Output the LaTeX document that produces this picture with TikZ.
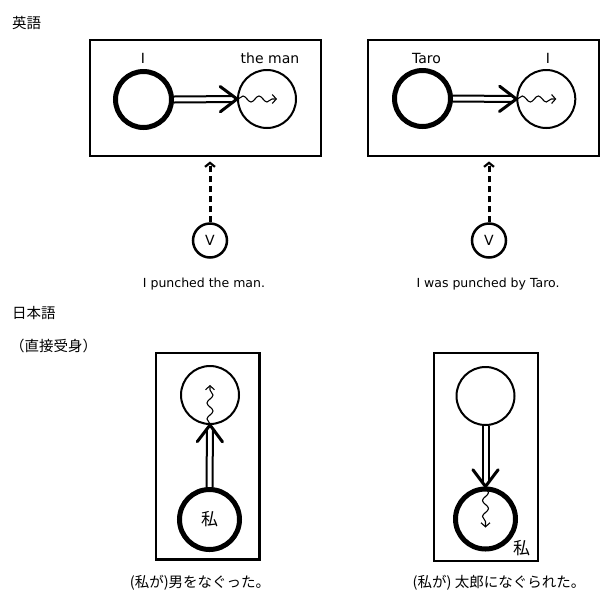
\documentclass[tikz,border=0pt]{standalone}
\usepackage{fontspec}
\setmainfont{DejaVu Sans}
\newfontfamily\jpfont{Noto Sans CJK JP}
\usetikzlibrary{calc,decorations.pathmorphing,arrows.meta}
\newcommand\dblarr[2]{%
  \coordinate (tmpE) at ($(#2)!4pt!(#1)$);
  \draw[rail] ($(#1)!3pt!90:(tmpE)$) -- ($(tmpE)!3pt!-90:(#1)$);
  \draw[rail] ($(#1)!3pt!-90:(tmpE)$) -- ($(tmpE)!3pt!90:(#1)$);
  \draw[arrhead] ($(#2)!21pt!37:(#1)$) -- (#2) -- ($(#2)!21pt!-37:(#1)$);
}
\begin{document}
\begin{tikzpicture}[x=1pt,y=-1pt,
  frame/.style={draw, line width=2.3pt, inner sep=0pt},
  agent/.style={circle, draw, line width=5pt, inner sep=0pt, minimum size=#1},
  agent/.default=56pt,
  patient/.style={circle, draw, line width=2pt, inner sep=0pt, minimum size=58pt},
  vnode/.style={circle, draw, line width=2.5pt, inner sep=0pt, minimum size=34pt, font=\fontsize{14}{14}\selectfont},
  lbl/.style={font=\fontsize{14}{14}\selectfont, inner sep=0pt, anchor=base},
  captxt/.style={font=\fontsize{12.5}{13}\selectfont, inner sep=0pt, anchor=base},
  jlbl/.style={font=\jpfont\fontsize{14.5}{15}\selectfont, inner sep=0pt, anchor=west},
  jcap/.style={font=\jpfont\fontsize{14.5}{15}\selectfont, inner sep=0pt},
  watashi/.style={font=\jpfont\fontsize{17}{17}\selectfont, inner sep=0pt},
  rail/.style={line width=2pt},
  arrhead/.style={line width=3pt, line join=round, line cap=round},
  wave/.style={line width=1.1pt, decorate,
    decoration={snake, amplitude=3pt, segment length=16pt, pre length=1pt, post length=5pt},
    -{Straight Barb[length=4pt,width=9pt,line width=1.1pt]}},
  infl/.style={line width=3pt, dash pattern=on 6pt off 4pt,
    -{Straight Barb[length=4pt,width=10pt,line width=2.2pt]}}
]
\useasboundingbox (0,0) rectangle (600,598);

% ---------- English ----------
\node[jlbl] (en) at (12,23) {英語};

% left box
\node[frame, minimum width=231pt, minimum height=116pt] (B1) at (205.3,98.3) {};
\node[agent] (A1) at (143.5,99.5) {};
\node[patient] (P1) at (267,99) {};
\node[lbl] (lA1) at (143,63) {I};
\node[lbl] (lP1) at (270,63) {the man};
\dblarr{A1.east}{P1.west}
\coordinate (w1) at ($(P1.west)+(40,0)$);
\draw[wave] (P1.west) -- (w1);
\node[vnode] (V1) at (210,240.5) {V};
\coordinate (t1) at ($(B1.south -| V1.north)+(0,4)$);
\draw[infl] (V1.north) -- (t1);
\node[captxt] (c1) at (204,287) {I punched the man.};

% right box
\node[frame, minimum width=231pt, minimum height=116pt] (B2) at (483.5,98.3) {};
\node[agent] (A2) at (422.5,98.5) {};
\node[patient] (P2) at (546.3,99) {};
\node[lbl] (lA2) at (426.5,63) {Taro};
\node[lbl] (lP2) at (548,63) {I};
\dblarr{A2.east}{P2.west}
\coordinate (w2) at ($(P2.west)+(40,0)$);
\draw[wave] (P2.west) -- (w2);
\node[vnode] (V2) at (489,240.5) {V};
\coordinate (t2) at ($(B2.south -| V2.north)+(0,4)$);
\draw[infl] (V2.north) -- (t2);
\node[captxt] (c2) at (488,287) {I was punched by Taro.};

% ---------- Japanese ----------
\node[jlbl] (ja) at (12,313) {日本語};
\node[jlbl] (jd) at (10,345.5) {（直接受身）};

% left box
\node[frame, minimum width=103.3pt, minimum height=206.7pt] (B3) at (207.8,456.2) {};
\node[patient] (P3) at (210,395) {};
\node[agent=60pt] (A3) at (209.5,519.5) {};
\node[watashi] (wA3) at (A3) {私};
\dblarr{A3.north}{P3.south}
\coordinate (w3) at ($(P3.south)+(0,-40)$);
\draw[wave] (P3.south) -- (w3);
\node[jcap] (c3) at (200,583) {(私が)男をなぐった。};

% right box
\node[frame, minimum width=104.5pt, minimum height=208pt] (B4) at (486,457) {};
\node[patient] (P4) at (485.5,396) {};
\node[agent=60pt] (A4) at (485.5,519) {};
\node[watashi] (wA4) at (521.5,548) {私};
\dblarr{P4.south}{A4.north}
\coordinate (w4) at ($(A4.north)+(0,41)$);
\draw[wave] (A4.north) -- (w4);
\node[jcap] (c4) at (499,583) {(私が) 太郎になぐられた。};
\end{tikzpicture}
\end{document}
